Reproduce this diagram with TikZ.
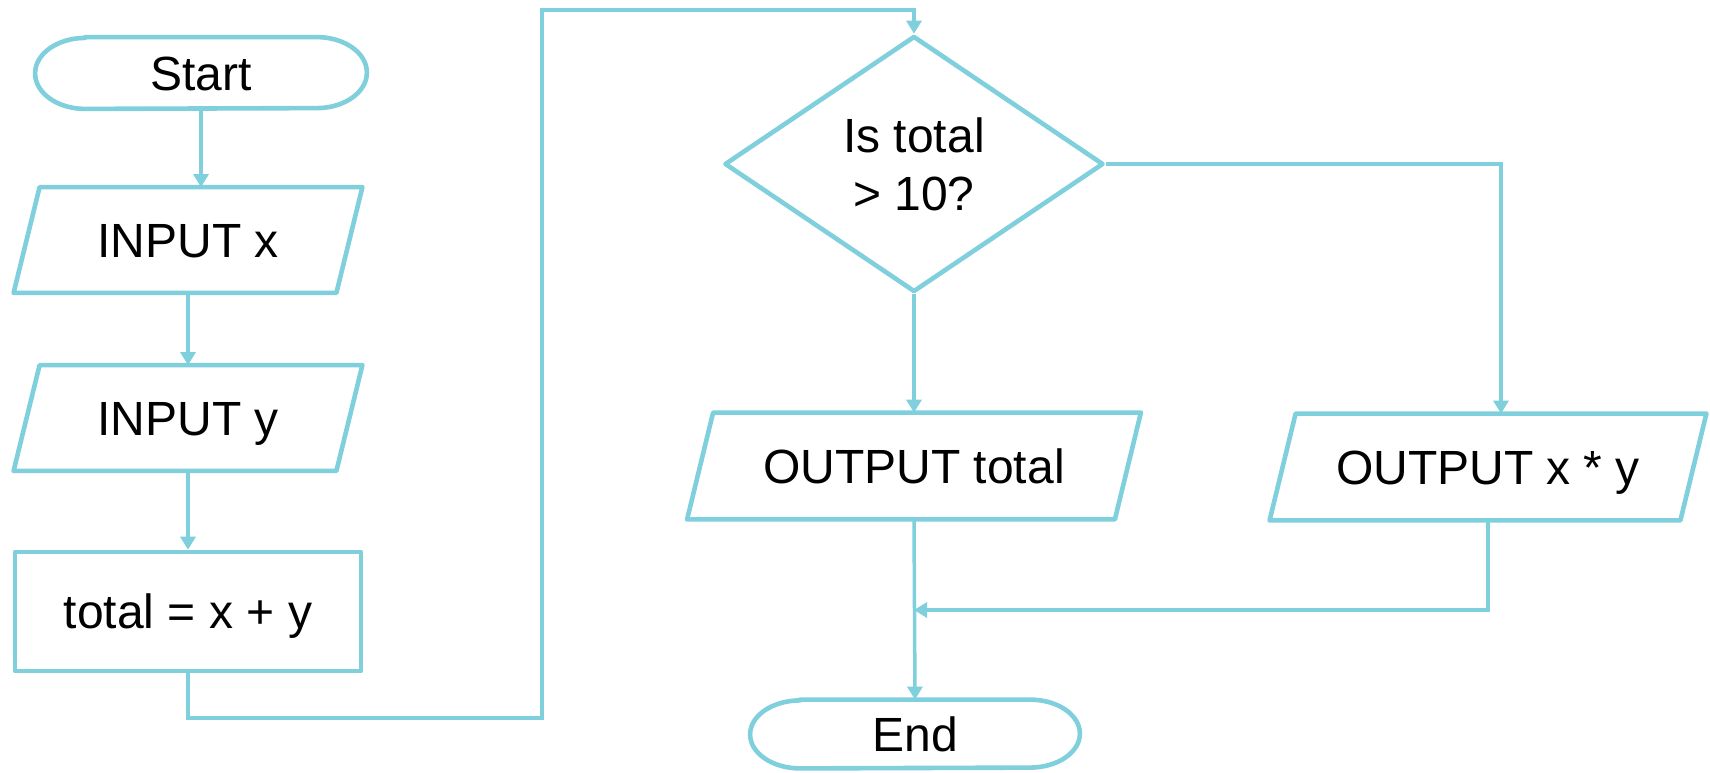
\documentclass[tikz,border=0pt]{standalone}
\usepackage{fontspec}
\setmainfont{Liberation Sans}
\usetikzlibrary{shapes.geometric,arrows.meta}
\definecolor{fc}{RGB}{127,208,220}
\newcommand{\ioshape}[1]{\draw[shapeline] ([xshift=6.5pt]#1.north west) -- ([xshift=6.5pt]#1.north east) -- ([xshift=-6.5pt]#1.south east) -- ([xshift=-6.5pt]#1.south west) -- cycle;}
\newcommand{\termshape}[3]{\draw[shapeline] ([xshift=#2]#1.north west) -- ([xshift=-#2]#1.north east) arc[start angle=90, end angle=-90, x radius=#2, y radius=#3] -- ([xshift=#2]#1.south west) arc[start angle=270, end angle=90, x radius=#2, y radius=#3] -- cycle;}
\begin{document}
\begin{tikzpicture}[x=0.5pt,y=-0.5pt,
  every node/.style={font=\fontsize{24}{29}\selectfont, text=black, inner sep=0pt},
  oneline/.style={text height=17pt, text depth=0pt},
  shapeline/.style={draw=fc, line width=2.3pt, line join=round},
  term/.style={rectangle, oneline},
  procbox/.style={rectangle, shapeline, oneline},
  iobox/.style={rectangle, oneline},
  decbox/.style={diamond, shapeline, align=center},
  conn/.style={draw=fc, line width=1.75pt},
  arr/.style={conn, -{Triangle[length=6.5pt,width=7.5pt]}}]
\useasboundingbox (0,0) rectangle (1710,772);

\node[term, minimum width=165.5pt, minimum height=35.5pt] (start) at (201,73) {Start};
\node[iobox, minimum width=161pt, minimum height=52.5pt] (inx) at (188,240) {INPUT x};
\node[iobox, minimum width=161pt, minimum height=52.5pt] (iny) at (188,418) {INPUT y};
\node[procbox, minimum width=173pt, minimum height=59.5pt] (total) at (188,611.5) {total = x + y};
\node[decbox, minimum width=189.5pt, minimum height=128pt] (dec) at (914,164) {Is total\\> 10?};
\node[iobox, minimum width=213.5pt, minimum height=53pt] (outt) at (914,466) {OUTPUT total};
\node[iobox, minimum width=205pt, minimum height=53pt] (outxy) at (1488,467) {OUTPUT x * y};
\node[term, minimum width=164.5pt, minimum height=34pt] (end) at (915,734) {End};

\termshape{start}{25pt}{17.75pt}
\termshape{end}{25pt}{17pt}
\ioshape{inx}
\ioshape{iny}
\ioshape{outt}
\ioshape{outxy}

\coordinate (c1) at (542,718);
\coordinate (c2) at (542,10);
\coordinate (mrg) at (914,610);

\draw[arr] (start.south) -- (start.south |- inx.north);
\draw[arr] (inx.south) -- (iny.north);
\draw[arr] (iny.south) -- (total.north);
\draw[arr] (total.south) |- (c1) -- (c2) -| (dec.north);
\draw[arr] (dec.south) -- (outt.north);
\draw[arr] (dec.east) -| ([xshift=6.5pt]outxy.north);
\draw[arr] (outt.south) -- (end.north);
\draw[arr] (outxy.south) |- (mrg);
\end{tikzpicture}
\end{document}
